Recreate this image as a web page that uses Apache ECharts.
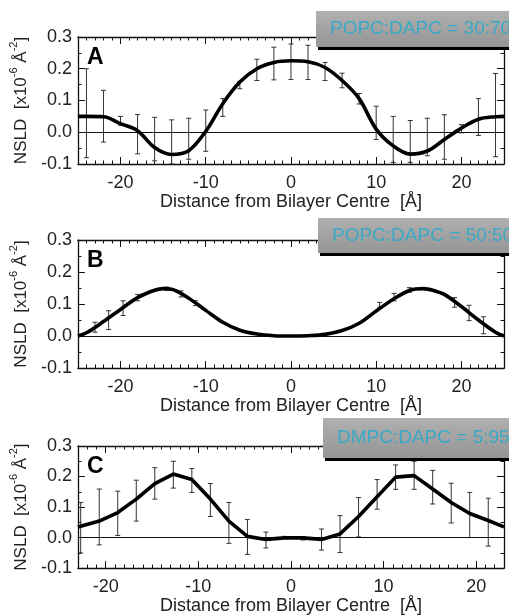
<!DOCTYPE html>
<html>
<head>
<meta charset="utf-8">
<script src="https://cdn.jsdelivr.net/npm/echarts@6/dist/echarts.min.js"></script>
<style>
  html, body { margin: 0; padding: 0; background: #fff; }
  #chart { width: 509px; height: 616px; }
</style>
</head>
<body>
<div id="chart"></div>
<script>
// ----------------- D A T A ----------------- //

const panelLetters = ['A', 'B', 'C']
const ratioLabels = ['POPC:DAPC = 30:70', 'POPC:DAPC = 50:50', 'DMPC:DAPC = 5:95']
const xRanges = [[-25, 25], [-25, 25], [-23, 23]]
const yTicks = [-0.1, 0.0, 0.1, 0.2, 0.3]

// panel A: fitted profile + error bars
const curveAx = [-25, -24, -22, -20, -18, -16, -14, -12, -10, -8, -6, -4, -2, 0, 2, 4, 6, 8, 10, 12, 14, 16, 18, 20, 22, 24, 25]
const curveAy = [0.05, 0.05, 0.049, 0.027, 0.005, -0.048, -0.07, -0.058, 0.003, 0.09, 0.158, 0.2, 0.22, 0.225, 0.222, 0.204, 0.163, 0.106, 0.01, -0.043, -0.069, -0.059, -0.023, 0.013, 0.041, 0.049, 0.05]
const barAx = [-24, -22, -20, -18, -16, -14, -12, -10, -8, -6, -4, -2, 0, 2, 4, 6, 8, 10, 12, 14, 16, 18, 20, 22, 24]
const barAlo = [-0.08, -0.031, 0.022, -0.068, -0.09, -0.1, -0.085, -0.06, 0.05, 0.137, 0.163, 0.165, 0.166, 0.166, 0.163, 0.14, 0.089, -0.023, -0.095, -0.095, -0.074, -0.085, -0.002, -0.01, -0.077]
const barAhi = [0.2, 0.132, 0.05, 0.056, 0.047, 0.039, 0.044, 0.07, 0.106, 0.16, 0.23, 0.268, 0.278, 0.274, 0.22, 0.186, 0.122, 0.082, 0.05, 0.037, 0.044, 0.055, 0.024, 0.106, 0.185]

// panel B
const curveBx = [-25, -24, -22, -20, -18, -16, -15, -14, -12, -10, -8, -6, -4, -2, 0, 2, 4, 6, 8, 10, 12, 14, 15.5, 17, 18, 20, 22, 24, 25]
const curveBy = [0, 0.01, 0.045, 0.083, 0.12, 0.143, 0.148, 0.146, 0.118, 0.08, 0.043, 0.018, 0.006, 0.001, 0, 0.001, 0.005, 0.017, 0.04, 0.078, 0.115, 0.143, 0.148, 0.14, 0.13, 0.092, 0.05, 0.012, 0]
const barBx = [-23, -21.4, -19.7, -18, -14.6, -12.9, -11.2, 10.4, 12.1, 13.9, 19.2, 20.9, 22.6]
const barBlo = [0.012, 0.02, 0.064, 0.11, 0.143, 0.122, 0.095, 0.09, 0.11, 0.137, 0.09, 0.048, 0.007]
const barBhi = [0.043, 0.079, 0.11, 0.13, 0.153, 0.141, 0.11, 0.105, 0.133, 0.151, 0.12, 0.096, 0.06]

// panel C
const curveCx = [-23, -20.7, -18.7, -16.7, -14.7, -12.7, -10.7, -8.7, -6.7, -4.7, -2.7, -0.7, 1.3, 3.3, 5.3, 7.3, 9.3, 11.3, 13.3, 15.3, 17.3, 19.3, 21.3, 23]
const curveCy = [0.035, 0.054, 0.082, 0.126, 0.177, 0.208, 0.19, 0.126, 0.054, 0.004, -0.006, -0.001, -0.001, -0.006, 0.012, 0.069, 0.134, 0.198, 0.203, 0.159, 0.115, 0.079, 0.056, 0.035]
const barCx = [-22.7, -20.7, -18.7, -16.7, -14.7, -12.7, -10.7, -8.7, -6.7, -4.7, -2.7, -0.7, 1.3, 3.3, 5.3, 7.3, 9.3, 11.3, 13.3, 15.3, 17.3, 19.3, 21.3]
const barClo = [-0.05, -0.024, 0.007, 0.054, 0.126, 0.162, 0.148, 0.069, -0.019, -0.055, -0.034, -0.003, -0.008, -0.041, -0.049, 0.002, 0.093, 0.158, 0.158, 0.11, 0.048, 0.0, -0.028]
const barChi = [0.115, 0.159, 0.152, 0.188, 0.229, 0.25, 0.226, 0.177, 0.115, 0.059, 0.018, 0.004, 0.002, 0.028, 0.072, 0.131, 0.19, 0.238, 0.25, 0.22, 0.178, 0.148, 0.129]

const curves = [[curveAx, curveAy], [curveBx, curveBy], [curveCx, curveCy]]
const bars = [[barAx, barAlo, barAhi], [barBx, barBlo, barBhi], [barCx, barClo, barChi]]

// ----------------- L A Y O U T ----------------- //

const FONT = '"Liberation Sans", Arial, sans-serif'
const grids = [
  { left: 73, right: 5, top: 37, height: 127 },
  { left: 73, right: 5, top: 240, height: 128 },
  { left: 73, right: 5, top: 446, height: 129 }
]
const boxes = [
  { x: 316, y: 11, h: 36 },
  { x: 318, y: 218, h: 35 },
  { x: 323, y: 418, h: 40 }
]
const smoothing = [0.35, 0.35, 0]

const tickStyle = { show: true, inside: true, length: 7, lineStyle: { color: '#111', width: 1 } }
const minorStyle = { show: true, length: 3.5, lineStyle: { color: '#111', width: 1 } }
const lineStyle = { show: true, onZero: false, lineStyle: { color: '#111', width: 1.3 } }

const xAxes = []
const yAxes = []
const series = []

grids.forEach((g, i) => {
  const [mn, mx] = xRanges[i]
  xAxes.push({
    type: 'value', gridIndex: i, min: mn, max: mx, splitNumber: 5, position: 'bottom',
    axisLine: lineStyle, axisTick: tickStyle,
    minorTick: { ...minorStyle, splitNumber: 10 },
    splitLine: { show: false },
    axisLabel: {
      color: '#222', fontFamily: FONT, fontSize: 18, margin: 10,
      formatter: v => (Math.abs(v % 10) < 1e-9 ? String(v) : '')
    },
    name: 'Distance from Bilayer Centre  [Å]', nameLocation: 'middle', nameGap: 26,
    nameTextStyle: { color: '#222', fontFamily: FONT, fontSize: 18 }
  })
  xAxes.push({
    type: 'value', gridIndex: i, min: mn, max: mx, splitNumber: 5, position: 'top',
    axisLine: lineStyle, axisTick: tickStyle,
    minorTick: { ...minorStyle, splitNumber: 10 },
    splitLine: { show: false }, axisLabel: { show: false }
  })
  yAxes.push({
    type: 'value', gridIndex: i, min: yTicks[0], max: yTicks[yTicks.length - 1], interval: 0.1, position: 'left',
    axisLine: lineStyle, axisTick: tickStyle,
    minorTick: { ...minorStyle, splitNumber: 2 },
    splitLine: { show: false },
    axisLabel: { color: '#222', fontFamily: FONT, fontSize: 18, margin: 6, formatter: v => v.toFixed(1) },
    name: '{n|NSLD  [x10}{s|-6}{n| Å}{s|-2}{n|]}', nameLocation: 'middle', nameRotate: 90, nameGap: 40,
    nameTextStyle: {
      rich: {
        n: { fontFamily: FONT, fontSize: 17, color: '#222', lineHeight: 22, verticalAlign: 'bottom' },
        s: { fontFamily: FONT, fontSize: 11, color: '#222', lineHeight: 22, verticalAlign: 'top' }
      }
    }
  })
  yAxes.push({
    type: 'value', gridIndex: i, min: yTicks[0], max: yTicks[yTicks.length - 1], interval: 0.1, position: 'right',
    axisLine: lineStyle, axisTick: tickStyle,
    minorTick: { ...minorStyle, splitNumber: 2 },
    splitLine: { show: false }, axisLabel: { show: false }
  })

  const [cx, cy] = curves[i]
  series.push({
    type: 'line', xAxisIndex: i * 2, yAxisIndex: i * 2,
    data: cx.map((x, k) => [x, cy[k]]),
    smooth: smoothing[i], showSymbol: false, clip: true,
    lineStyle: { color: '#000', width: 3.6 },
    z: 5,
    markLine: {
      silent: true, symbol: 'none', label: { show: false },
      lineStyle: { color: '#111', width: 1.2, type: 'solid' },
      data: [{ yAxis: 0 }]
    }
  })

  const [bx, blo, bhi] = bars[i]
  series.push({
    type: 'custom', xAxisIndex: i * 2, yAxisIndex: i * 2, clip: true, z: 4,
    data: bx.map((x, k) => [x, blo[k], bhi[k]]),
    renderItem: (params, api) => {
      const p1 = api.coord([api.value(0), api.value(1)])
      const p2 = api.coord([api.value(0), api.value(2)])
      const cap = 2.5
      const st = { stroke: '#333', lineWidth: 1 }
      return {
        type: 'group',
        children: [
          { type: 'line', shape: { x1: p1[0], y1: p1[1], x2: p2[0], y2: p2[1] }, style: st },
          { type: 'line', shape: { x1: p1[0] - cap, y1: p1[1], x2: p1[0] + cap, y2: p1[1] }, style: st },
          { type: 'line', shape: { x1: p2[0] - cap, y1: p2[1], x2: p2[0] + cap, y2: p2[1] }, style: st }
        ]
      }
    }
  })
})

// panel letters and ratio boxes
const graphics = []
grids.forEach((g, i) => {
  graphics.push({
    type: 'text', left: 87, top: g.top + 9, z: 20,
    style: { text: panelLetters[i], font: 'bold 23px ' + FONT, fill: '#000' }
  })
  const b = boxes[i]
  graphics.push({
    type: 'rect', z: 20,
    shape: { x: b.x, y: b.y, width: 509 - b.x + 10, height: b.h },
    style: {
      fill: new echarts.graphic.LinearGradient(0, 0, 0, 1, [
        { offset: 0, color: '#b0b0b0' },
        { offset: 1, color: '#959595' }
      ]),
      shadowColor: '#000', shadowOffsetX: 2, shadowOffsetY: 3, shadowBlur: 0
    }
  })
  graphics.push({
    type: 'text', z: 21, x: b.x + 14, y: b.y + b.h / 2,
    style: { text: ratioLabels[i], font: '19px ' + FONT, fill: '#3aa9c6', verticalAlign: 'middle' }
  })
})

const option = {
  backgroundColor: '#fff',
  animation: false,
  grid: grids,
  xAxis: xAxes,
  yAxis: yAxes,
  series: series,
  graphic: graphics
}

const myChart = echarts.init(document.getElementById('chart'))
myChart.setOption(option)
</script>
</body>
</html>
